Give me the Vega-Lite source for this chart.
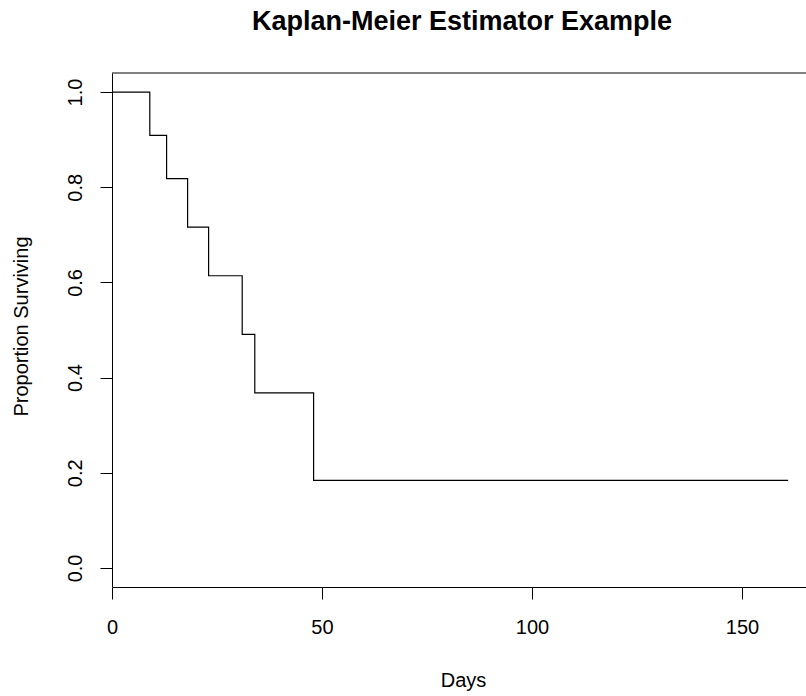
{
  "$schema": "https://vega.github.io/schema/vega-lite/v6.json",
  "width": 694,
  "height": 514,
  "autosize": {"type": "none"},
  "padding": {"left": 112, "top": 73, "right": 0, "bottom": 109},
  "background": "white",
  "config": {
    "view": {"stroke": null},
    "font": "Liberation Sans",
    "axis": {"grid": false, "domainColor": "black", "tickColor": "black", "labelColor": "black", "titleColor": "black", "labelFont": "Liberation Sans", "titleFont": "Liberation Sans", "labelFontSize": 20, "titleFontSize": 20, "titleFontWeight": "normal", "tickSize": 12, "domainWidth": 1, "tickWidth": 1}
  },
  "title": {"text": "Kaplan-Meier Estimator Example", "font": "Liberation Sans", "fontSize": 27, "fontWeight": "bold", "color": "black", "baseline": "alphabetic", "offset": 16, "dx": 3},
  "data": {"values": [
    {"days": 0, "surv": 1.0},
    {"days": 9, "surv": 0.909},
    {"days": 13, "surv": 0.818},
    {"days": 18, "surv": 0.716},
    {"days": 23, "surv": 0.614},
    {"days": 31, "surv": 0.491},
    {"days": 34, "surv": 0.368},
    {"days": 48, "surv": 0.184},
    {"days": 161, "surv": 0.184}
  ]},
  "layer": [
    {
      "mark": {"type": "line", "interpolate": "step-after", "color": "black", "strokeWidth": 1.2},
      "encoding": {
        "x": {"field": "days", "type": "quantitative", "scale": {"domain": [0, 165.24], "nice": false, "zero": false},
          "axis": {"title": "Days", "values": [0, 50, 100, 150], "labelPadding": 34, "labelBaseline": "alphabetic", "titleX": 351, "titleY": 99, "titleBaseline": "alphabetic", "titleAnchor": null, "labelFlush": false}},
        "y": {"field": "surv", "type": "quantitative", "scale": {"domain": [-0.04, 1.04], "nice": false, "zero": false},
          "axis": {"title": "Proportion Surviving", "values": [0, 0.2, 0.4, 0.6, 0.8, 1.0], "format": ".1f", "labelAngle": 270, "labelAlign": "center", "labelBaseline": "alphabetic", "labelPadding": 19, "labelFlush": false, "titleAngle": 270, "titleX": -85, "titleY": 253, "titleBaseline": "alphabetic", "titleAlign": "center"}}
      }
    },
    {
      "mark": {"type": "rule", "color": "black", "strokeWidth": 1},
      "data": {"values": [{"y": 1.04}]},
      "encoding": {"y": {"field": "y", "type": "quantitative"}}
    }
  ]
}
